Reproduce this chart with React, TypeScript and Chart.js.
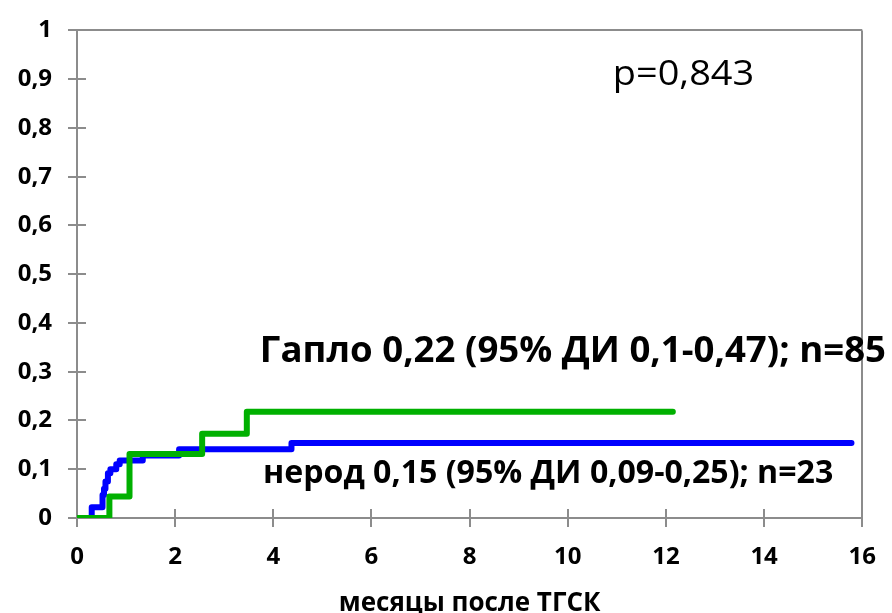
import { useEffect, useRef } from 'react';
import { Chart, registerables } from 'chart.js';

Chart.register(...registerables);

// ---- data ----
const haploMonths = [0, 0.66, 1.07, 2.55, 3.46, 12.14];
const haploValues = [0, 0.044, 0.131, 0.173, 0.218, 0.218];

const nerodMonths = [0, 0.3, 0.52, 0.55, 0.58, 0.63, 0.68, 0.8, 0.87, 1.34, 2.08, 4.37, 15.78];
const nerodValues = [0, 0.022, 0.047, 0.06, 0.075, 0.092, 0.1, 0.11, 0.118, 0.128, 0.141, 0.154, 0.154];

const xTickValues = [0, 2, 4, 6, 8, 10, 12, 14, 16];
const xTickLabels = ['0', '2', '4', '6', '8', '10', '12', '14', '16'];
const yTickValues = [0, 0.1, 0.2, 0.3, 0.4, 0.5, 0.6, 0.7, 0.8, 0.9, 1];
const yTickLabels = ['0', '0,1', '0,2', '0,3', '0,4', '0,5', '0,6', '0,7', '0,8', '0,9', '1'];

const xTitle = 'месяцы после ТГСК';
const pText = 'p=0,843';
const haploText = 'Гапло 0,22 (95% ДИ 0,1-0,47); n=85';
const nerodText = 'нерод 0,15 (95% ДИ 0,09-0,25); n=23';

const GREEN = '#00b000';
const BLUE = '#0000ff';
const AXIS = '#8c8c8c';
const FONT = "'Open Sans', 'DejaVu Sans', sans-serif";

function drawFitted(
  ctx: CanvasRenderingContext2D,
  text: string,
  font: string,
  left: number,
  right: number,
  baseline: number
) {
  ctx.save();
  ctx.font = font;
  ctx.textBaseline = 'alphabetic';
  ctx.textAlign = 'left';
  const m = ctx.measureText(text);
  const inkW = m.actualBoundingBoxLeft + m.actualBoundingBoxRight;
  const sx = (right - left) / inkW;
  ctx.translate(left, baseline);
  ctx.scale(sx, 1);
  ctx.fillStyle = '#000';
  ctx.fillText(text, m.actualBoundingBoxLeft, 0);
  ctx.restore();
}

const framePlugin = {
  id: 'frame',
  beforeDatasetsDraw(chart: any) {
    const { ctx, chartArea } = chart;
    const { left, right, top, bottom } = chartArea;
    const xs = chart.scales.x;
    const ys = chart.scales.y;
    ctx.save();
    ctx.strokeStyle = AXIS;
    ctx.lineWidth = 2;
    ctx.beginPath();
    ctx.moveTo(left, Math.round(top));
    ctx.lineTo(right, Math.round(top));
    ctx.moveTo(Math.round(right), top);
    ctx.lineTo(Math.round(right), bottom);
    yTickValues.forEach((v) => {
      const y = Math.round(ys.getPixelForValue(v));
      ctx.moveTo(left, y);
      ctx.lineTo(left + 9, y);
    });
    xTickValues.forEach((v) => {
      const x = Math.round(xs.getPixelForValue(v));
      ctx.moveTo(x, bottom);
      ctx.lineTo(x, bottom - 9);
    });
    ctx.stroke();
    ctx.restore();
  },
  afterDraw(chart: any) {
    const ctx = chart.ctx as CanvasRenderingContext2D;
    drawFitted(ctx, pText, `400 35px ${FONT}`, 615, 752, 85);
    drawFitted(ctx, haploText, `700 35px ${FONT}`, 263, 885, 362);
    drawFitted(ctx, nerodText, `700 32px ${FONT}`, 265, 833, 483);
  },
};

export default function App() {
  const ref = useRef<HTMLCanvasElement | null>(null);

  useEffect(() => {
    if (!ref.current) return;
    const tickFont = { family: FONT, weight: 'bold' as const, size: 24 };
    const chart = new Chart(ref.current, {
      type: 'line',
      data: {
        datasets: [
          {
            label: 'Гапло',
            data: haploMonths.map((x, i) => ({ x, y: haploValues[i] })),
            borderColor: GREEN,
            backgroundColor: GREEN,
            borderWidth: 6,
            stepped: true,
            pointRadius: 0,
            fill: false,
            borderCapStyle: 'round',
            borderJoinStyle: 'round',
          },
          {
            label: 'нерод',
            data: nerodMonths.map((x, i) => ({ x, y: nerodValues[i] })),
            borderColor: BLUE,
            backgroundColor: BLUE,
            borderWidth: 6,
            stepped: true,
            pointRadius: 0,
            fill: false,
            borderCapStyle: 'round',
            borderJoinStyle: 'round',
          },
        ],
      },
      options: {
        animation: false,
        responsive: false,
        devicePixelRatio: 1,
        layout: { padding: { top: 22, right: 24, left: 0, bottom: 0 } },
        plugins: {
          legend: { display: false },
          tooltip: { enabled: false },
        },
        scales: {
          x: {
            type: 'linear',
            min: 0,
            max: 16,
            afterBuildTicks: (s: any) => {
              s.ticks = xTickValues.map((v) => ({ value: v }));
            },
            afterFit: (s: any) => {
              s.height = 95;
            },
            ticks: {
              font: tickFont,
              color: '#000',
              padding: 16,
              maxRotation: 0,
              autoSkip: false,
              callback: (_v: any, i: number) => xTickLabels[i],
            },
            grid: {
              drawOnChartArea: false,
              drawTicks: true,
              tickLength: 9,
              color: AXIS,
              lineWidth: 2,
            },
            border: { color: AXIS, width: 2 },
            title: {
              display: true,
              text: xTitle,
              color: '#000',
              font: { family: FONT, weight: 'bold', size: 26, lineHeight: 0.7 },
              padding: 0,
            },
          },
          y: {
            type: 'linear',
            min: 0,
            max: 1,
            afterBuildTicks: (s: any) => {
              s.ticks = yTickValues.map((v) => ({ value: v }));
            },
            afterFit: (s: any) => {
              s.width = 77;
            },
            ticks: {
              font: tickFont,
              color: '#000',
              padding: 16,
              autoSkip: false,
              callback: (_v: any, i: number) => yTickLabels[i],
            },
            grid: {
              drawOnChartArea: false,
              drawTicks: true,
              tickLength: 9,
              color: AXIS,
              lineWidth: 2,
            },
            border: { color: AXIS, width: 2 },
          },
        },
      },
      plugins: [framePlugin],
    } as any);
    return () => chart.destroy();
  }, []);

  return (
    <div style={{ position: 'absolute', left: 0, top: 0, width: 892, height: 613, background: '#fff' }}>
      <canvas ref={ref} width={892} height={613} style={{ display: 'block' }} />
    </div>
  );
}
